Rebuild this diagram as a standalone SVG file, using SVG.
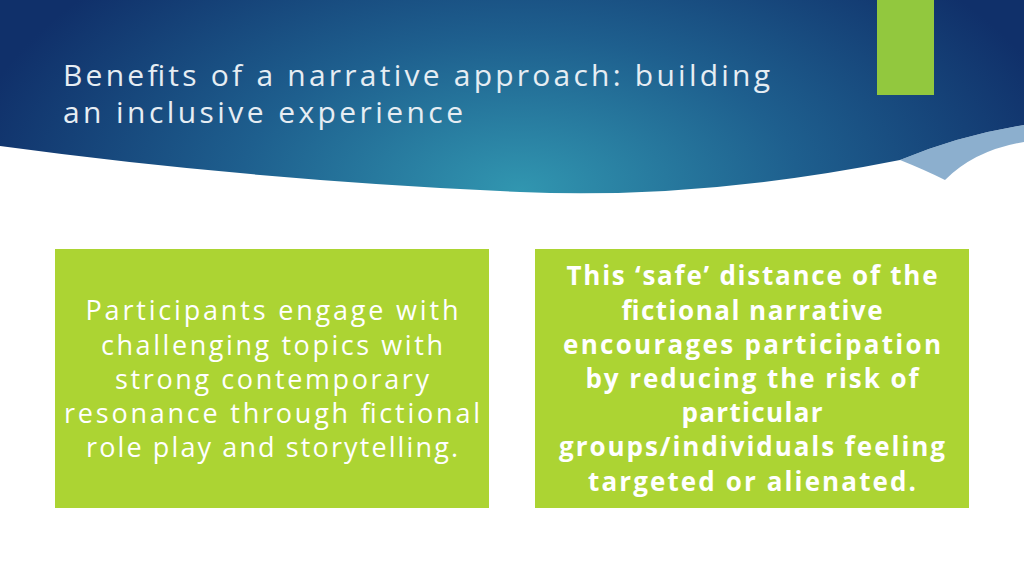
<svg xmlns="http://www.w3.org/2000/svg" width="1024" height="576" viewBox="0 0 1024 576">
<defs>
<radialGradient id="hg" cx="520" cy="190" r="560" gradientUnits="userSpaceOnUse" gradientTransform="translate(520 190) scale(1 0.55) translate(-520 -190)">
<stop offset="0" stop-color="#3196b0"/><stop offset="0.5" stop-color="#1e5f8e"/><stop offset="1" stop-color="#10306a"/>
</radialGradient>
<style>
.t{font-family:"Open Sans",sans-serif;fill:#fff;text-anchor:middle}
.l{font-size:27px;font-weight:400}
.b{font-size:26px;font-weight:700}
</style>
</defs>
<rect width="1024" height="576" fill="#fff"/>
<path d="M0 0H1024V125Q960 135 900 160Q700 200 520 192Q250 180 0 146Z" fill="url(#hg)"/>
<path d="M900 160Q960 135 1024 125V142Q975 150 945 180Q925 170 900 160Z" fill="#3f79ad" opacity="0.6"/>
<rect x="877" y="0" width="57" height="95" fill="#92c83e"/>
<text font-family="Open Sans, sans-serif" font-size="30" fill="#e6edf3" lengthAdjust="spacingAndGlyphs"><tspan x="63" y="86" textLength="707">Benefits of a narrative approach: building</tspan><tspan x="63" y="123" textLength="400">an inclusive experience</tspan></text>
<g id="left"><rect x="55" y="249" width="434" height="259" fill="#acd433"/>
<text class="t l" lengthAdjust="spacingAndGlyphs"><tspan x="272" y="320" textLength="373">Participants engage with</tspan><tspan x="272" y="355" textLength="342">challenging topics with</tspan><tspan x="272" y="389" textLength="314">strong contemporary</tspan><tspan x="272" y="423" textLength="416">resonance through fictional</tspan><tspan x="272" y="457" textLength="372">role play and storytelling.</tspan></text></g>
<g id="right"><rect x="535" y="249" width="434" height="259" fill="#acd433"/>
<text class="t b" lengthAdjust="spacingAndGlyphs"><tspan x="752" y="285" textLength="371">This ‘safe’ distance of the</tspan><tspan x="752" y="320" textLength="261">fictional narrative</tspan><tspan x="752" y="354" textLength="378">encourages participation</tspan><tspan x="752" y="388" textLength="333">by reducing the risk of</tspan><tspan x="752" y="422" textLength="141">particular</tspan><tspan x="752" y="456" textLength="386">groups/individuals feeling</tspan><tspan x="752" y="491" textLength="328">targeted or alienated.</tspan></text></g>
<g id="connectors"/>
</svg>
